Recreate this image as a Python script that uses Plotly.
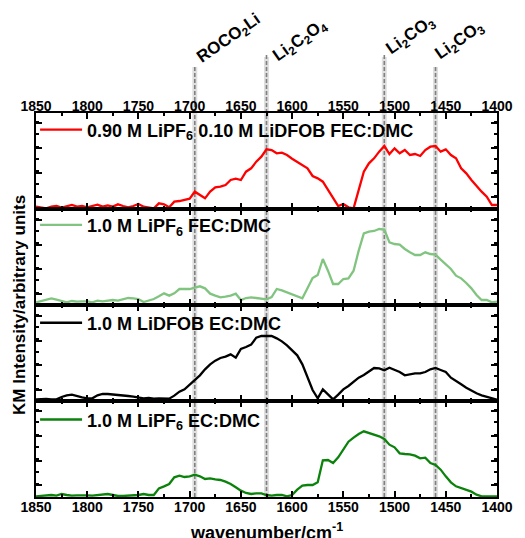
import plotly.graph_objects as go
from plotly.subplots import make_subplots

# wavenumber sampling (cm-1), 1850 -> 1400 every 5
wavenumber = list(range(1850, 1395, -5))

# KM intensities (arbitrary units), one list per panel
fec_mixed = [5, 3, 0, 5, 7, 2, 7, 10, 5, 7, 3, 7, 11, 5, 9, 5, 12, 7, 3, 7,
             13, 5, 3, 0, 15, 12, 3, 20, 22, 25, 29, 50, 40, 30, 50, 63, 65, 70, 85, 89,
             85, 110, 120, 140, 155, 177, 175, 165, 167, 160, 149, 140, 130, 120, 97, 90, 80, 55, 30, 7,
             13, 3, 0, 55, 110, 135, 150, 170, 187, 163, 180, 165, 175, 160, 163, 157, 175, 185, 187, 170,
             177, 160, 150, 120, 105, 85, 67, 50, 35, 10, 10]
fec_lipf6 = [8, 12, 16, 20, 16, 11, 8, 12, 10, 11, 11, 8, 13, 11, 12, 15, 13, 17, 21, 20,
             18, 9, 14, 18, 26, 35, 28, 35, 48, 47, 48, 52, 56, 50, 34, 28, 23, 25, 28, 34,
             15, 21, 23, 21, 20, 17, 24, 48, 44, 38, 33, 26, 20, 50, 81, 90, 138, 103, 63, 63,
             78, 80, 103, 163, 215, 220, 222, 228, 226, 188, 183, 181, 168, 158, 150, 150, 158, 153, 151, 136,
             123, 108, 88, 80, 66, 50, 30, 15, 15, 8, 10]
ec_lidfob = [5, 6, 6, 5, 5, 12, 17, 19, 14, 11, 8, 8, 17, 21, 21, 20, 18, 17, 15, 13,
             11, 8, 9, 7, 8, 7, 7, 16, 28, 35, 49, 65, 77, 95, 110, 121, 129, 133, 140, 130,
             156, 162, 169, 190, 195, 195, 195, 188, 179, 167, 153, 137, 110, 72, 33, 8, 35, 20, 5, 19,
             35, 45, 57, 70, 78, 89, 99, 98, 92, 100, 93, 87, 77, 80, 83, 83, 87, 95, 99, 93,
             87, 70, 61, 50, 40, 31, 23, 17, 13, 8, 4]
ec_lipf6 = [0, 1, 2, 4, 2, 7, 4, 2, 3, 4, 3, 2, 3, 4, 7, 4, 1, 1, 2, 2,
            4, 7, 4, 4, 24, 30, 37, 57, 62, 58, 60, 65, 60, 52, 54, 51, 49, 44, 37, 27,
            17, 10, 7, 9, 9, 4, 2, 4, 4, 0, 4, 20, 32, 34, 34, 42, 108, 109, 100, 117,
            142, 164, 176, 187, 195, 190, 183, 180, 172, 155, 147, 129, 127, 126, 122, 114, 116, 100, 94, 80,
            60, 42, 30, 25, 21, 14, 5, 0, 0, 1, 0]

series_names = ["<b>0.90 M LiPF<sub>6</sub> 0.10 M LiDFOB FEC:DMC</b>",
                "<b>1.0 M LiPF<sub>6</sub> FEC:DMC</b>",
                "<b>1.0 M LiDFOB EC:DMC</b>",
                "<b>1.0 M LiPF<sub>6</sub> EC:DMC</b>"]
series_values = [fec_mixed, fec_lipf6, ec_lidfob, ec_lipf6]
series_colors = ["#ff0000", "#80c480", "#000000", "#0b820b"]

# tick labels
x_ticks = [1850, 1800, 1750, 1700, 1650, 1600, 1550, 1500, 1450, 1400]
x_ticktext = [f"<b>{t}</b>" for t in x_ticks]

# assignment lines (cm-1) and labels
band_pos = [1695, 1625, 1510, 1460]
band_labels = ["<b>ROCO<sub>2</sub>Li</b>", "<b>Li<sub>2</sub>C<sub>2</sub>O<sub>4</sub></b>",
               "<b>Li<sub>2</sub>CO<sub>3</sub></b>", "<b>Li<sub>2</sub>CO<sub>3</sub></b>"]
band_top = [1.125, 1.151, 1.151, 1.125]
label_x = [1661, 1592, 1484, 1436]
label_y = [1.192, 1.187, 1.200, 1.187]

FONT = "Arial"

fig = make_subplots(rows=4, cols=1, shared_xaxes=True, vertical_spacing=0)

legend_y = [0.956, 0.708, 0.453, 0.201]
for i, (name, vals, col) in enumerate(zip(series_names, series_values, series_colors)):
    lg = "legend" if i == 0 else f"legend{i+1}"
    fig.add_trace(go.Scatter(x=wavenumber, y=vals, mode="lines", name=name,
                             line=dict(color=col, width=2.3), legend=lg,
                             showlegend=True), row=i+1, col=1)
    fig.update_layout({lg: dict(x=-0.002, xanchor="left", y=legend_y[i], yanchor="middle",
                                bgcolor="rgba(0,0,0,0)", borderwidth=0, itemwidth=42,
                                font=dict(family=FONT, size=18, color="black", weight="bold"))})

for r in range(1, 5):
    fig.update_xaxes(range=[1850, 1400], tickvals=x_ticks, ticktext=x_ticktext,
                     ticks="inside", ticklen=6, tickwidth=1.5, tickcolor="black",
                     ticklabelstandoff=-4,
                     minor=dict(dtick=25, ticks="inside", ticklen=3, tickwidth=1.5, tickcolor="black"),
                     showline=True, linewidth=2, linecolor="black", mirror="ticks",
                     showgrid=False, zeroline=False,
                     tickfont=dict(family=FONT, size=14, color="black", weight="bold"),
                     row=r, col=1)
    fig.update_yaxes(range=[-2, 286] if r in (1, 4) else [0, 288], tick0=33, dtick=74,
                     ticks="inside", ticklen=6, tickwidth=1.5, tickcolor="black",
                     minor=dict(dtick=37, ticks="inside", ticklen=3, tickwidth=1.5, tickcolor="black"),
                     showticklabels=False, showline=True, linewidth=2, linecolor="black",
                     mirror="ticks", showgrid=False, zeroline=False, row=r, col=1)

fig.update_xaxes(showticklabels=True, side="top", ticklabelstandoff=-6, row=1, col=1)
fig.update_xaxes(showticklabels=True, row=4, col=1)

shapes = []
for xp, top in zip(band_pos, band_top):
    shapes.append(dict(type="line", xref="x", yref="paper", x0=xp, x1=xp, y0=0, y1=top - 0.005,
                       line=dict(color="rgba(140,140,140,0.28)", width=5), layer="below"))
    shapes.append(dict(type="line", xref="x", yref="paper", x0=xp, x1=xp, y0=0, y1=top,
                       line=dict(color="#808080", width=1.6, dash="4px,2px"), layer="below"))

annotations = []
for lx, ly, txt in zip(label_x, label_y, band_labels):
    annotations.append(dict(x=lx, y=ly, xref="x", yref="paper", text=txt, showarrow=False,
                            textangle=-35, xanchor="center", yanchor="middle",
                            font=dict(family=FONT, size=17, color="black", weight="bold")))
annotations.append(dict(x=0.5, y=-0.090, xref="paper", yref="paper",
                        text="<b>wavenumber/cm<sup>-1</sup></b>", showarrow=False,
                        xanchor="center", yanchor="middle",
                        font=dict(family=FONT, size=18, color="black", weight="bold")))
annotations.append(dict(x=-0.037, y=0.5, xref="paper", yref="paper",
                        text="<b>KM Intensity/arbitrary units</b>", showarrow=False, textangle=-90,
                        xanchor="center", yanchor="middle",
                        font=dict(family=FONT, size=17, color="black", weight="bold")))

# page body has an 8 px margin: shrink the figure so the plot lands where the reference has it
fig.update_layout(width=517, height=530, margin=dict(l=28, r=18, t=105, b=41),
                  paper_bgcolor="white", plot_bgcolor="rgba(0,0,0,0)",
                  shapes=shapes, annotations=annotations)

fig.write_html("out.html")
